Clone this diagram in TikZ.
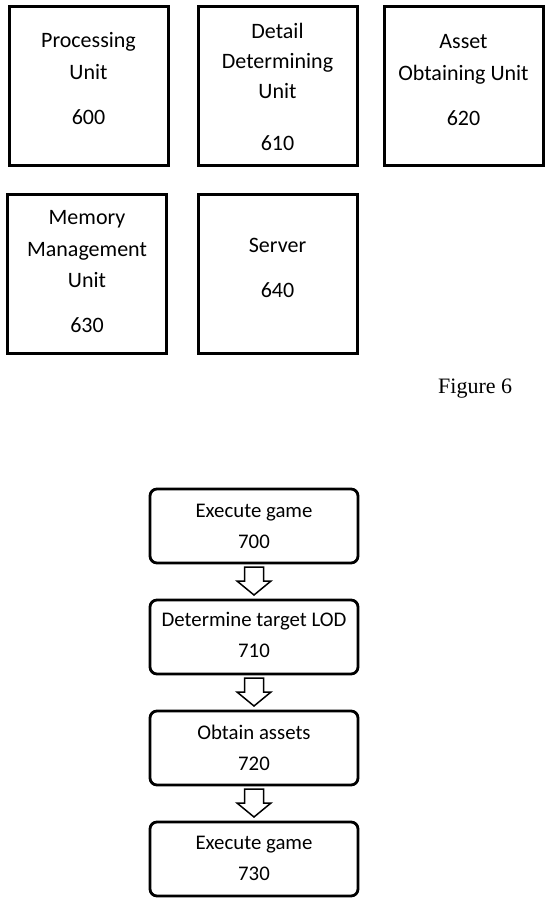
\documentclass[tikz,border=0pt]{standalone}
\usepackage{fontspec}
\setmainfont{Carlito}
\newfontfamily\figfont{Liberation Serif}
\usetikzlibrary{calc}
\tikzset{
  unitbox/.style={draw, line width=3pt, minimum width=159pt, minimum height=159pt, inner sep=0pt, outer sep=0pt},
  stepbox/.style={draw, line width=2.8pt, rounded corners=7pt, minimum width=208pt, minimum height=74pt, inner sep=0pt, outer sep=0pt},
  txt/.style={font=\fontsize{22}{32}\selectfont, align=center, inner sep=0pt, anchor=base},
  steptxt/.style={font=\fontsize{20.8}{31}\selectfont, align=center, inner sep=0pt, anchor=base},
  blockarrow/.style={draw, line width=1.5pt, fill=white, line join=miter},
}
\begin{document}
\begin{tikzpicture}[x=1pt,y=-1pt]
\useasboundingbox (0,0) rectangle (550,902);
% Figure 6 units
\node[unitbox] (u600) at (88.5,86) {};
\node[unitbox] (u610) at (277.5,86) {};
\node[unitbox] (u620) at (463.5,86) {};
\node[unitbox] (u630) at (87,274) {};
\node[unitbox] (u640) at (277.5,274) {};
\node[txt] (t600) at (88.5,124) {Processing\\Unit\\[13pt]600};
\node[txt] (t610) at (277.5,150) {Detail\\[-2pt]Determining\\[-2pt]Unit\\[20pt]610};
\node[txt] (t620) at (463.5,125) {Asset\\Obtaining Unit\\[13pt]620};
\node[txt] (t630) at (87,332) {Memory\\Management\\[-1pt]Unit\\[13pt]630};
\node[txt] (t640) at (277.5,297) {Server\\[13pt]640};
\node[font=\figfont\fontsize{22}{26}\selectfont, anchor=base west, inner sep=0pt] (fig6) at (438,393) {Figure 6};
% Figure 7 flow
\node[stepbox] (s700) at (254,526) {};
\node[stepbox] (s710) at (254,637) {};
\node[stepbox] (s720) at (254,748) {};
\node[stepbox] (s730) at (254,859) {};
\node[steptxt] (t700) at (254,548) {Execute game\\700};
\node[steptxt] (t710) at (254,657.5) {Determine target LOD\\710};
\node[steptxt] (t720) at (254,770) {Obtain assets\\720};
\node[steptxt] (t730) at (254,880) {Execute game\\730};
\foreach \a/\b in {s700/s710,s710/s720,s720/s730}{
  \draw[blockarrow] ($(\a.south)+(-9.5,4)$) -- ($(\a.south)+(9.5,4)$) -- ($(\a.south)+(9.5,18)$) -- ($(\a.south)+(17,18)$) -- ($(\b.north)+(0,-5)$) -- ($(\a.south)+(-17,18)$) -- ($(\a.south)+(-9.5,18)$) -- cycle;
}
\end{tikzpicture}
\end{document}
